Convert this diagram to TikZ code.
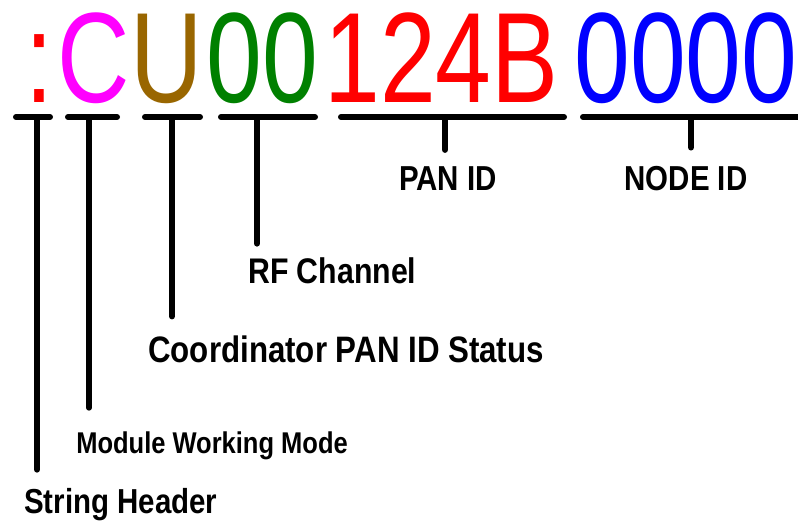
\documentclass[tikz,border=0pt]{standalone}
\usepackage{fontspec}
\usepackage{tikz}
\newfontfamily\codefont[FakeStretch=0.78]{Liberation Sans}
\newfontfamily\labelfont[FakeStretch=0.85]{Liberation Sans}
\definecolor{umber}{HTML}{996600}
\definecolor{dkgreen}{HTML}{008000}
\definecolor{pink}{HTML}{FF00FF}

\begin{document}
\begin{tikzpicture}[x = 0.75pt, y = -0.75pt, every node/.style = {inner sep = 0pt, anchor = base west},
        code/.style = {font = \codefont\fontsize{96.4pt}{96.4pt}\selectfont},
        lbl/.style = {font = \labelfont\bfseries\fontsize{#1}{#1}\selectfont},
        bar/.style = {line width = 4.5pt, line cap = round}]
    \useasboundingbox (0,0) rectangle (798,522);
    % the response string
    \node[code, text = red] (header) at (25,102) {:};
    \node[code, text = pink] (modechar) at (57,102) {C};
    \node[code, text = umber] (statuschar) at (130,102) {U};
    \node[code, text = dkgreen] (channel) at (206,102) {00};
    \node[code, text = red] (panid) at (324,102) {124B};
    \node[code, text = blue] (nodeid) at (574,102) {0000};
    % brackets under each field
    \draw[bar] (16,117) -- (50,117);
    \draw[bar] (68,117) -- (117,117);
    \draw[bar] (145,117) -- (200,117);
    \draw[bar] (221,117) -- (315,117);
    \draw[bar] (341,117) -- (564,117);
    \draw[bar] (583,117) -- (802,117);
    \coordinate (s1) at (37,117);
    \coordinate (s2) at (89,117);
    \coordinate (s3) at (172,117);
    \coordinate (s4) at (257,117);
    \coordinate (s5) at (445,117);
    \coordinate (s6) at (691,117);
    % labels
    \node[lbl = 26pt] (headerlbl) at (24,513) {String Header};
    \node[lbl = 22.5pt] (modelbl) at (76,453) {Module Working Mode};
    \node[lbl = 27.6pt] (statuslbl) at (148,362) {Coordinator PAN ID Status};
    \node[lbl = 26.7pt] (channellbl) at (248,283) {RF Channel};
    \node[lbl = 26pt, anchor = base] (panidlbl) at (448,190) {PAN ID};
    \node[lbl = 26pt, anchor = base] (nodeidlbl) at (686,190) {NODE ID};
    % stems
    \draw[bar, shorten >= 13.5pt] (s1) -- (s1 |- headerlbl.north);
    \draw[bar, shorten >= 17.5pt] (s2) -- (s2 |- modelbl.north);
    \draw[bar, shorten >= 14pt] (s3) -- (s3 |- statuslbl.north);
    \draw[bar, shorten >= 10pt] (s4) -- (s4 |- channellbl.north);
    \draw[bar, shorten >= 12pt] (s5) -- (s5 |- panidlbl.north);
    \draw[bar, shorten >= 13.5pt] (s6) -- (s6 |- nodeidlbl.north);
\end{tikzpicture}
\end{document}
